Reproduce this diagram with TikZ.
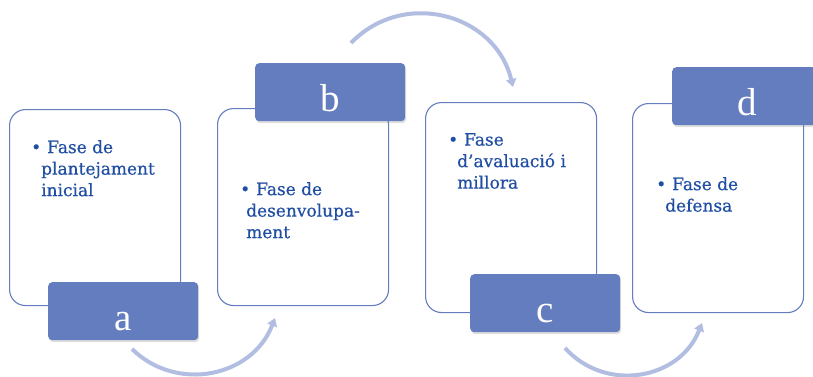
\documentclass[tikz,border=0pt]{standalone}
\usepackage{fontspec}
\setmainfont{DejaVu Serif}
\newfontfamily\txtfont[FakeBold=0.5]{DejaVu Serif}
\newfontfamily\letterfont{Liberation Serif}
\usetikzlibrary{arrows.meta,shadows}
\definecolor{boxblue}{RGB}{100,125,190}
\definecolor{txtblue}{RGB}{32,78,162}
\definecolor{arrowblue}{RGB}{178,189,226}
\begin{document}
\begin{tikzpicture}[x=1pt,y=-1pt,
  phase/.style={draw=boxblue, line width=1.1pt, fill=white, rounded corners=16pt,
    inner sep=0pt, anchor=north west, minimum width=171pt, minimum height=200pt},
  tag/.style={fill=boxblue, rounded corners=4pt, inner sep=0pt, anchor=north west,
    minimum width=150pt, minimum height=58pt,
    drop shadow={opacity=0.25,shadow xshift=1pt,shadow yshift=-2pt}},
  letter/.style={text=white, font=\letterfont\fontsize{39}{40}\selectfont, anchor=base, inner sep=0pt},
  txt/.style={text=txtblue, font=\txtfont\fontsize{17}{21.5}\selectfont, align=left, anchor=north west, inner sep=0pt},
  flow/.style={draw=arrowblue, line width=4pt, -{Triangle[width=10pt,length=8pt]}}]
\clip (0,0) rectangle (813,376);
% arrows
\coordinate (a1s) at (132,349);
\coordinate (a1e) at (275,318);
\coordinate (a2s) at (351,43);
\coordinate (a2e) at (513,87);
\coordinate (a3s) at (565,348);
\coordinate (a3e) at (702,323);
\draw[flow] (a1s) .. controls (177,393) and (252.3,376.9) .. (a1e);
\draw[flow] (a2s) .. controls (403.5,-11.4) and (495.3,13.5) .. (a2e);
\draw[flow] (a3s) .. controls (605.8,393.2) and (679.8,379.7) .. (a3e);
% phase boxes
\node[phase, minimum height=196pt] (A) at (9,109) {};
\node[phase, minimum height=197pt] (B) at (217,108) {};
\node[phase, minimum height=210pt] (C) at (425,102) {};
\node[phase, minimum height=209pt] (D) at (632,103) {};
% tags
\node[tag] (LA) at (48,282) {};
\node[tag] (LB) at (255,63) {};
\node[tag] (LC) at (470,274) {};
\node[tag] (LD) at (672,67) {};
\node[letter] (la) at (LA.south) [yshift=10pt] {a};
\node[letter] (lb) at (LB.south) [yshift=10pt] {b};
\node[letter] (lc) at (LC.south) [yshift=10pt] {c};
\node[letter] (ld) at (LD.south) [yshift=10pt] {d};
% texts
\node[txt] (ta) at (31,140) {•\hspace{6pt}Fase de\\\hspace*{10pt}plantejament\\\hspace*{10pt}inicial};
\node[txt] (tb) at (240,182) {•\hspace{6pt}Fase de\\\hspace*{6pt}desenvolupa-\\\hspace*{6pt}ment};
\node[txt] (tc) at (448,133) {•\hspace{6pt}Fase\\\hspace*{9pt}d’avaluació i\\\hspace*{9pt}millora};
\node[txt] (td) at (656,177) {•\hspace{6pt}Fase de\\\hspace*{9pt}defensa};
\end{tikzpicture}
\end{document}
